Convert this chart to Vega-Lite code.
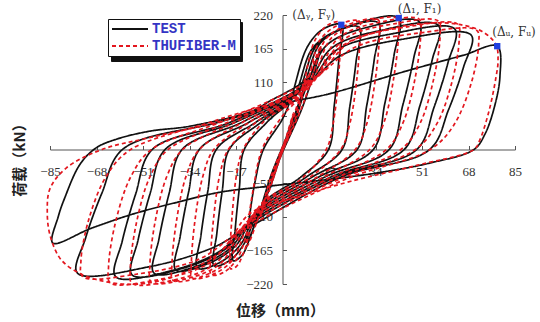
{
"$schema":"https://vega.github.io/schema/vega-lite/v6.json",
"width":465,"height":269,
"autosize":{"type":"none"},
"padding":{"left":50,"top":15,"right":25,"bottom":38},
"background":"white",
"config":{"view":{"stroke":null}},
"datasets":{"curves":[
{"s":"TEST","x":0,"y":0},{"s":"TEST","x":2,"y":28},{"s":"TEST","x":4,"y":55},{"s":"TEST","x":2.2,"y":25},{"s":"TEST","x":-0.8,"y":-5},{"s":"TEST","x":-2,"y":-27},{"s":"TEST","x":-4,"y":-50},{"s":"TEST","x":-2.2,"y":-22},{"s":"TEST","x":0.6,"y":10},{"s":"TEST","x":4.5,"y":57},{"s":"TEST","x":9,"y":115},{"s":"TEST","x":5,"y":52},{"s":"TEST","x":-0.6,"y":-10},{"s":"TEST","x":-4,"y":-55},{"s":"TEST","x":-8,"y":-100},{"s":"TEST","x":-4.4,"y":-45},{"s":"TEST","x":1,"y":15},{"s":"TEST","x":7,"y":82},{"s":"TEST","x":14,"y":165},{"s":"TEST","x":7.7,"y":74},{"s":"TEST","x":-1,"y":-15},{"s":"TEST","x":-6.5,"y":-82},{"s":"TEST","x":-13,"y":-150},{"s":"TEST","x":-12,"y":-108},{"s":"TEST","x":-10,"y":-52},{"s":"TEST","x":-7,"y":0},{"s":"TEST","x":0,"y":50},{"s":"TEST","x":3,"y":82},{"s":"TEST","x":9.1,"y":168},{"s":"TEST","x":14.9,"y":197},
{"s":"TEST","x":21.5,"y":204},{"s":"TEST","x":20.6,"y":147},{"s":"TEST","x":18.9,"y":71},{"s":"TEST","x":16.8,"y":0},{"s":"TEST","x":6.7,"y":-45},{"s":"TEST","x":-7,"y":-88},{"s":"TEST","x":-12,"y":-146},{"s":"TEST","x":-14.8,"y":-173},
{"s":"TEST","x":-18,"y":-182},{"s":"TEST","x":-17.3,"y":-131},{"s":"TEST","x":-15.8,"y":-64},{"s":"TEST","x":-14,"y":0},{"s":"TEST","x":-5.6,"y":45},{"s":"TEST","x":4,"y":86},{"s":"TEST","x":10.75,"y":164},{"s":"TEST","x":18.8,"y":192},
{"s":"TEST","x":28,"y":200},{"s":"TEST","x":26.9,"y":144},{"s":"TEST","x":24.6,"y":70},{"s":"TEST","x":21.8,"y":0},{"s":"TEST","x":8.7,"y":-45},{"s":"TEST","x":-8,"y":-95},{"s":"TEST","x":-13.75,"y":-152},{"s":"TEST","x":-19,"y":-180.5},
{"s":"TEST","x":-25,"y":-190},{"s":"TEST","x":-24,"y":-137},{"s":"TEST","x":-22,"y":-66.5},{"s":"TEST","x":-19.5,"y":0},{"s":"TEST","x":-7.75,"y":45},{"s":"TEST","x":5,"y":90},{"s":"TEST","x":12.5,"y":170},{"s":"TEST","x":23,"y":199},
{"s":"TEST","x":35,"y":207},{"s":"TEST","x":33.6,"y":149},{"s":"TEST","x":30.8,"y":72},{"s":"TEST","x":27.3,"y":0},{"s":"TEST","x":10.9,"y":-45},{"s":"TEST","x":-9,"y":-102},{"s":"TEST","x":-15.25,"y":-155},{"s":"TEST","x":-22.6,"y":-184},
{"s":"TEST","x":-31,"y":-194},{"s":"TEST","x":-29.8,"y":-140},{"s":"TEST","x":-27.3,"y":-68},{"s":"TEST","x":-24.2,"y":0},{"s":"TEST","x":-9.6,"y":45},{"s":"TEST","x":6,"y":94},{"s":"TEST","x":14.25,"y":176},{"s":"TEST","x":27.2,"y":206},
{"s":"TEST","x":42.5,"y":215},{"s":"TEST","x":40.8,"y":155},{"s":"TEST","x":37.4,"y":75},{"s":"TEST","x":33.2,"y":0},{"s":"TEST","x":13.2,"y":-45},{"s":"TEST","x":-10,"y":-108},{"s":"TEST","x":-17.25,"y":-158},{"s":"TEST","x":-27.4,"y":-187},
{"s":"TEST","x":-39,"y":-197},{"s":"TEST","x":-37.4,"y":-142},{"s":"TEST","x":-34.3,"y":-69},{"s":"TEST","x":-30.4,"y":0},{"s":"TEST","x":-12.1,"y":45},{"s":"TEST","x":7,"y":98},{"s":"TEST","x":16.25,"y":171},{"s":"TEST","x":32,"y":201},
{"s":"TEST","x":50,"y":209},{"s":"TEST","x":48,"y":150},{"s":"TEST","x":44,"y":73},{"s":"TEST","x":39,"y":0},{"s":"TEST","x":15.5,"y":-45},{"s":"TEST","x":-11,"y":-114},{"s":"TEST","x":-19.25,"y":-162},{"s":"TEST","x":-32.2,"y":-192},
{"s":"TEST","x":-47,"y":-202},{"s":"TEST","x":-45.1,"y":-145},{"s":"TEST","x":-41.4,"y":-71},{"s":"TEST","x":-36.7,"y":0},{"s":"TEST","x":-14.6,"y":45},{"s":"TEST","x":8,"y":102},{"s":"TEST","x":18,"y":166},{"s":"TEST","x":36.2,"y":195},
{"s":"TEST","x":57,"y":203},{"s":"TEST","x":54.7,"y":146},{"s":"TEST","x":50.2,"y":71},{"s":"TEST","x":44.5,"y":0},{"s":"TEST","x":17.7,"y":-45},{"s":"TEST","x":-12,"y":-120},{"s":"TEST","x":-21.25,"y":-164},{"s":"TEST","x":-37,"y":-195},
{"s":"TEST","x":-55,"y":-205},{"s":"TEST","x":-52.8,"y":-148},{"s":"TEST","x":-48.4,"y":-72},{"s":"TEST","x":-42.9,"y":0},{"s":"TEST","x":-17,"y":45},{"s":"TEST","x":9,"y":106},{"s":"TEST","x":19.5,"y":162},{"s":"TEST","x":39.8,"y":189},
{"s":"TEST","x":63,"y":197},{"s":"TEST","x":60.5,"y":142},{"s":"TEST","x":55.4,"y":69},{"s":"TEST","x":49.1,"y":0},{"s":"TEST","x":19.5,"y":-45},{"s":"TEST","x":-13,"y":-126},{"s":"TEST","x":-22.75,"y":-166},{"s":"TEST","x":-40.6,"y":-198},
{"s":"TEST","x":-61,"y":-208},{"s":"TEST","x":-58.6,"y":-150},{"s":"TEST","x":-53.7,"y":-73},{"s":"TEST","x":-47.6,"y":0},{"s":"TEST","x":-18.9,"y":45},{"s":"TEST","x":10,"y":110},{"s":"TEST","x":21,"y":153},{"s":"TEST","x":43.4,"y":180},
{"s":"TEST","x":69,"y":187},{"s":"TEST","x":66.2,"y":135},{"s":"TEST","x":60.7,"y":65},{"s":"TEST","x":53.8,"y":0},{"s":"TEST","x":21.4,"y":-45},{"s":"TEST","x":-14,"y":-132},{"s":"TEST","x":-26.25,"y":-162},{"s":"TEST","x":-49,"y":-192},
{"s":"TEST","x":-75,"y":-202},{"s":"TEST","x":-72,"y":-145},{"s":"TEST","x":-66,"y":-71},{"s":"TEST","x":-58.5,"y":0},{"s":"TEST","x":-23,"y":45},{"s":"TEST","x":0,"y":75},{"s":"TEST","x":17,"y":91},{"s":"TEST","x":45,"y":128},{"s":"TEST","x":66,"y":154},
{"s":"TEST","x":78.5,"y":169},{"s":"TEST","x":79.5,"y":120},{"s":"TEST","x":77.5,"y":70},{"s":"TEST","x":74,"y":25},{"s":"TEST","x":70,"y":0},{"s":"TEST","x":54,"y":-22},{"s":"TEST","x":35,"y":-38},{"s":"TEST","x":15,"y":-50},{"s":"TEST","x":-5,"y":-60},{"s":"TEST","x":-23,"y":-70},{"s":"TEST","x":-40,"y":-88},{"s":"TEST","x":-55,"y":-106},{"s":"TEST","x":-70,"y":-129},
{"s":"TEST","x":-84,"y":-153},{"s":"TEST","x":-82,"y":-110},{"s":"TEST","x":-79.6,"y":-79},{"s":"TEST","x":-74,"y":-24},{"s":"TEST","x":-68,"y":3},{"s":"TEST","x":-60.6,"y":17},{"s":"TEST","x":-48.5,"y":30},{"s":"TEST","x":-34,"y":38},{"s":"TEST","x":-11,"y":63},{"s":"TEST","x":-4.7,"y":79},{"s":"TEST","x":4,"y":100},{"s":"TEST","x":10,"y":118},
{"s":"THUFIBER-M","x":0,"y":0},{"s":"THUFIBER-M","x":2,"y":30},{"s":"THUFIBER-M","x":4,"y":60},{"s":"THUFIBER-M","x":2.3,"y":28},{"s":"THUFIBER-M","x":-0.6,"y":-4},{"s":"THUFIBER-M","x":-2.2,"y":-30},{"s":"THUFIBER-M","x":-4,"y":-55},{"s":"THUFIBER-M","x":-2.4,"y":-25},{"s":"THUFIBER-M","x":0.5,"y":8},{"s":"THUFIBER-M","x":4.6,"y":62},{"s":"THUFIBER-M","x":9,"y":120},{"s":"THUFIBER-M","x":5.3,"y":58},{"s":"THUFIBER-M","x":-0.4,"y":-8},{"s":"THUFIBER-M","x":-4.3,"y":-60},{"s":"THUFIBER-M","x":-8,"y":-108},{"s":"THUFIBER-M","x":-4.6,"y":-50},{"s":"THUFIBER-M","x":1.2,"y":18},{"s":"THUFIBER-M","x":7,"y":88},{"s":"THUFIBER-M","x":14,"y":170},{"s":"THUFIBER-M","x":8,"y":80},{"s":"THUFIBER-M","x":-0.8,"y":-12},{"s":"THUFIBER-M","x":-6.8,"y":-86},{"s":"THUFIBER-M","x":-13,"y":-158},{"s":"THUFIBER-M","x":-12.5,"y":-120},{"s":"THUFIBER-M","x":-10.5,"y":-60},{"s":"THUFIBER-M","x":-7.5,"y":0},{"s":"THUFIBER-M","x":0,"y":55},{"s":"THUFIBER-M","x":6,"y":86},{"s":"THUFIBER-M","x":11.9,"y":179},{"s":"THUFIBER-M","x":16.8,"y":204},
{"s":"THUFIBER-M","x":21,"y":208},{"s":"THUFIBER-M","x":21.2,"y":183},{"s":"THUFIBER-M","x":20.4,"y":114},{"s":"THUFIBER-M","x":18.5,"y":42},{"s":"THUFIBER-M","x":16,"y":0},{"s":"THUFIBER-M","x":6.9,"y":-48},{"s":"THUFIBER-M","x":-8,"y":-90},{"s":"THUFIBER-M","x":-14.1,"y":-168},{"s":"THUFIBER-M","x":-16.8,"y":-191},
{"s":"THUFIBER-M","x":-19,"y":-195},{"s":"THUFIBER-M","x":-19.2,"y":-172},{"s":"THUFIBER-M","x":-18.4,"y":-107},{"s":"THUFIBER-M","x":-16.7,"y":-39},{"s":"THUFIBER-M","x":-14.4,"y":0},{"s":"THUFIBER-M","x":-6.3,"y":48},{"s":"THUFIBER-M","x":7,"y":90},{"s":"THUFIBER-M","x":14,"y":181},{"s":"THUFIBER-M","x":21.6,"y":206},
{"s":"THUFIBER-M","x":28,"y":210},{"s":"THUFIBER-M","x":28.3,"y":185},{"s":"THUFIBER-M","x":27.2,"y":116},{"s":"THUFIBER-M","x":24.6,"y":42},{"s":"THUFIBER-M","x":21.3,"y":0},{"s":"THUFIBER-M","x":9.2,"y":-48},{"s":"THUFIBER-M","x":-9,"y":-96},{"s":"THUFIBER-M","x":-16.2,"y":-176},{"s":"THUFIBER-M","x":-21.5,"y":-201},
{"s":"THUFIBER-M","x":-26,"y":-205},{"s":"THUFIBER-M","x":-26.3,"y":-180},{"s":"THUFIBER-M","x":-25.2,"y":-113},{"s":"THUFIBER-M","x":-22.9,"y":-41},{"s":"THUFIBER-M","x":-19.8,"y":0},{"s":"THUFIBER-M","x":-8.6,"y":48},{"s":"THUFIBER-M","x":8,"y":95},{"s":"THUFIBER-M","x":16.1,"y":182},{"s":"THUFIBER-M","x":26.4,"y":208},
{"s":"THUFIBER-M","x":35,"y":212},{"s":"THUFIBER-M","x":35.4,"y":187},{"s":"THUFIBER-M","x":34,"y":117},{"s":"THUFIBER-M","x":30.8,"y":42},{"s":"THUFIBER-M","x":26.6,"y":0},{"s":"THUFIBER-M","x":11.6,"y":-48},{"s":"THUFIBER-M","x":-10,"y":-102},{"s":"THUFIBER-M","x":-18.3,"y":-181},{"s":"THUFIBER-M","x":-26.3,"y":-206},
{"s":"THUFIBER-M","x":-33,"y":-210},{"s":"THUFIBER-M","x":-33.3,"y":-185},{"s":"THUFIBER-M","x":-32,"y":-116},{"s":"THUFIBER-M","x":-29,"y":-42},{"s":"THUFIBER-M","x":-25.1,"y":0},{"s":"THUFIBER-M","x":-10.9,"y":48},{"s":"THUFIBER-M","x":9,"y":100},{"s":"THUFIBER-M","x":18.2,"y":184},{"s":"THUFIBER-M","x":31.1,"y":210},
{"s":"THUFIBER-M","x":42,"y":214},{"s":"THUFIBER-M","x":42.4,"y":188},{"s":"THUFIBER-M","x":40.7,"y":118},{"s":"THUFIBER-M","x":37,"y":43},{"s":"THUFIBER-M","x":31.9,"y":0},{"s":"THUFIBER-M","x":13.9,"y":-48},{"s":"THUFIBER-M","x":-11,"y":-108},{"s":"THUFIBER-M","x":-20.4,"y":-184},{"s":"THUFIBER-M","x":-31,"y":-210},
{"s":"THUFIBER-M","x":-40,"y":-214},{"s":"THUFIBER-M","x":-40.4,"y":-188},{"s":"THUFIBER-M","x":-38.8,"y":-118},{"s":"THUFIBER-M","x":-35.2,"y":-43},{"s":"THUFIBER-M","x":-30.4,"y":0},{"s":"THUFIBER-M","x":-13.2,"y":48},{"s":"THUFIBER-M","x":10,"y":104},{"s":"THUFIBER-M","x":20.6,"y":183},{"s":"THUFIBER-M","x":36.6,"y":209},
{"s":"THUFIBER-M","x":50,"y":213},{"s":"THUFIBER-M","x":50.5,"y":187},{"s":"THUFIBER-M","x":48.5,"y":117},{"s":"THUFIBER-M","x":44,"y":43},{"s":"THUFIBER-M","x":38,"y":0},{"s":"THUFIBER-M","x":16.5,"y":-48},{"s":"THUFIBER-M","x":-12,"y":-114},{"s":"THUFIBER-M","x":-22.8,"y":-187},{"s":"THUFIBER-M","x":-36.5,"y":-213},
{"s":"THUFIBER-M","x":-48,"y":-217},{"s":"THUFIBER-M","x":-48.5,"y":-191},{"s":"THUFIBER-M","x":-46.6,"y":-119},{"s":"THUFIBER-M","x":-42.2,"y":-43},{"s":"THUFIBER-M","x":-36.5,"y":0},{"s":"THUFIBER-M","x":-15.8,"y":48},{"s":"THUFIBER-M","x":10,"y":108},{"s":"THUFIBER-M","x":22.7,"y":181},{"s":"THUFIBER-M","x":41.3,"y":206},
{"s":"THUFIBER-M","x":57,"y":210},{"s":"THUFIBER-M","x":57.6,"y":185},{"s":"THUFIBER-M","x":55.3,"y":116},{"s":"THUFIBER-M","x":50.2,"y":42},{"s":"THUFIBER-M","x":43.3,"y":0},{"s":"THUFIBER-M","x":18.8,"y":-48},{"s":"THUFIBER-M","x":-13,"y":-120},{"s":"THUFIBER-M","x":-24.9,"y":-188},{"s":"THUFIBER-M","x":-41.2,"y":-215},
{"s":"THUFIBER-M","x":-55,"y":-219},{"s":"THUFIBER-M","x":-55.6,"y":-193},{"s":"THUFIBER-M","x":-53.4,"y":-120},{"s":"THUFIBER-M","x":-48.4,"y":-44},{"s":"THUFIBER-M","x":-41.8,"y":0},{"s":"THUFIBER-M","x":-18.2,"y":48},{"s":"THUFIBER-M","x":11,"y":112},{"s":"THUFIBER-M","x":24.8,"y":176},{"s":"THUFIBER-M","x":46.1,"y":201},
{"s":"THUFIBER-M","x":64,"y":205},{"s":"THUFIBER-M","x":64.6,"y":180},{"s":"THUFIBER-M","x":62.1,"y":113},{"s":"THUFIBER-M","x":56.3,"y":41},{"s":"THUFIBER-M","x":48.6,"y":0},{"s":"THUFIBER-M","x":21.1,"y":-48},{"s":"THUFIBER-M","x":-14,"y":-126},{"s":"THUFIBER-M","x":-27.3,"y":-187},{"s":"THUFIBER-M","x":-46.7,"y":-214},
{"s":"THUFIBER-M","x":-63,"y":-218},{"s":"THUFIBER-M","x":-63.6,"y":-192},{"s":"THUFIBER-M","x":-61.1,"y":-120},{"s":"THUFIBER-M","x":-55.4,"y":-44},{"s":"THUFIBER-M","x":-47.9,"y":0},{"s":"THUFIBER-M","x":-20.8,"y":48},{"s":"THUFIBER-M","x":11,"y":115},{"s":"THUFIBER-M","x":26.9,"y":168},{"s":"THUFIBER-M","x":50.8,"y":191},
{"s":"THUFIBER-M","x":71,"y":195},{"s":"THUFIBER-M","x":71.7,"y":172},{"s":"THUFIBER-M","x":68.9,"y":107},{"s":"THUFIBER-M","x":62.5,"y":39},{"s":"THUFIBER-M","x":54,"y":0},{"s":"THUFIBER-M","x":23.4,"y":-48},{"s":"THUFIBER-M","x":-15,"y":-132},{"s":"THUFIBER-M","x":-30.3,"y":-179},{"s":"THUFIBER-M","x":-53.5,"y":-204},
{"s":"THUFIBER-M","x":-73,"y":-208},{"s":"THUFIBER-M","x":-73.7,"y":-183},{"s":"THUFIBER-M","x":-70.8,"y":-114},{"s":"THUFIBER-M","x":-64.2,"y":-42},{"s":"THUFIBER-M","x":-55.5,"y":0},{"s":"THUFIBER-M","x":-24,"y":48},{"s":"THUFIBER-M","x":8,"y":100},{"s":"THUFIBER-M","x":22,"y":170},{"s":"THUFIBER-M","x":40,"y":198},{"s":"THUFIBER-M","x":55,"y":207},{"s":"THUFIBER-M","x":64,"y":205},{"s":"THUFIBER-M","x":73,"y":193},{"s":"THUFIBER-M","x":78,"y":172},{"s":"THUFIBER-M","x":78.8,"y":145},{"s":"THUFIBER-M","x":78,"y":117},{"s":"THUFIBER-M","x":75.5,"y":63},{"s":"THUFIBER-M","x":72,"y":14},{"s":"THUFIBER-M","x":70,"y":0},{"s":"THUFIBER-M","x":50,"y":-25},{"s":"THUFIBER-M","x":25,"y":-52},{"s":"THUFIBER-M","x":5,"y":-78},{"s":"THUFIBER-M","x":-12,"y":-105},{"s":"THUFIBER-M","x":-22,"y":-165},{"s":"THUFIBER-M","x":-38,"y":-205},{"s":"THUFIBER-M","x":-50,"y":-219},{"s":"THUFIBER-M","x":-58,"y":-220},{"s":"THUFIBER-M","x":-66,"y":-215},{"s":"THUFIBER-M","x":-74,"y":-203},{"s":"THUFIBER-M","x":-81,"y":-180},{"s":"THUFIBER-M","x":-85,"y":-140},{"s":"THUFIBER-M","x":-86,"y":-100},{"s":"THUFIBER-M","x":-85,"y":-64},{"s":"THUFIBER-M","x":-79,"y":-30},{"s":"THUFIBER-M","x":-66,"y":0},{"s":"THUFIBER-M","x":-50,"y":18},{"s":"THUFIBER-M","x":-30,"y":38},{"s":"THUFIBER-M","x":-10,"y":62},{"s":"THUFIBER-M","x":4,"y":90},{"s":"THUFIBER-M","x":10,"y":110}
]},
"layer":[
{"data":{"name":"curves"},
 "mark":{"type":"line","interpolate":"catmull-rom","strokeWidth":1.7},
 "encoding":{
  "x":{"field":"x","type":"quantitative","scale":{"domain":[-85,85],"nice":false,"zero":false},
   "axis":{"orient":"bottom","offset":-134.5,"values":[-85,-68,-51,-34,-17,17,34,51,68,85],"tickCount":30,"tickSize":-4,"labelPadding":20,"grid":false,"labelFlush":false,"labelOverlap":false,
    "title":"位移（mm）","titleX":230,"titleY":161,"titleAlign":"center","titleBaseline":"middle","titleFont":"Noto Sans CJK SC","titleFontSize":15,"titleFontWeight":"bold","titleColor":"#222222",
    "labelFont":"Liberation Serif","labelFontSize":13,"labelColor":"#333333","domainColor":"#555555","tickColor":"#555555"}},
  "y":{"field":"y","type":"quantitative","scale":{"domain":[-220,220],"nice":false,"zero":false},
   "axis":{"orient":"left","offset":-232.5,"values":[220,165,110,55,-55,-110,-165,-220],"tickCount":30,"tickSize":-4,"labelPadding":14,"grid":false,"labelFlush":false,"labelOverlap":false,
    "title":"荷载（kN）","titleX":-263.5,"titleY":141,"titleAngle":-90,"titleAlign":"center","titleBaseline":"middle","titleFont":"Noto Sans CJK SC","titleFontSize":15,"titleFontWeight":"bold","titleColor":"#222222",
    "labelFont":"Liberation Serif","labelFontSize":13,"labelColor":"#333333","domainColor":"#555555","tickColor":"#555555"}},
  "color":{"field":"s","type":"nominal","scale":{"range":["#111111","#e3161e"]},
   "legend":{"orient":"none","legendX":58,"legendY":4,"title":null,"fillColor":"white","strokeColor":"#111111","padding":3,"symbolType":"M-1,0H5","symbolSize":144,"symbolStrokeWidth":2,"labelFont":"Liberation Mono","labelFontWeight":"bold","labelFontSize":14,"labelColor":"#3434c4","labelOffset":27,"rowPadding":3,"zindex":2}},
  "strokeDash":{"field":"s","type":"nominal","scale":{"range":[[1,0],[4,3]]}},
  "opacity":{"field":"s","type":"nominal","scale":{"domain":["TEST","THUFIBER-M"],"range":[1,1]},
   "legend":{"orient":"none","legendX":61,"legendY":7,"title":null,"fillColor":"#111111","strokeColor":"#111111","padding":3,"symbolType":"M-1,0H5","symbolSize":196,"symbolStrokeWidth":2,"symbolStrokeColor":"#111111","symbolFillColor":"#111111","labelExpr":"''","labelFontSize":14,"labelOffset":109,"rowPadding":3,"zindex":1}},
  "order":{"value":null}
 }},
{"data":{"values":[{"x":21.5,"y":204},{"x":42.5,"y":215},{"x":78.5,"y":169}]},
 "mark":{"type":"square","size":40,"color":"#1f3fe0","filled":true,"opacity":1},
 "encoding":{"x":{"field":"x","type":"quantitative"},"y":{"field":"y","type":"quantitative"}}},
{"data":{"values":[{"x":21.5,"y":204,"t":"(Δᵧ, Fᵧ)"}]},
 "mark":{"type":"text","align":"right","baseline":"middle","dx":-6,"dy":-10,"font":"DejaVu Serif","fontSize":12,"color":"#333333"},
 "encoding":{"x":{"field":"x","type":"quantitative"},"y":{"field":"y","type":"quantitative"},"text":{"field":"t"}}},
{"data":{"values":[{"x":42.5,"y":215,"t":"(Δ₁, F₁)"}]},
 "mark":{"type":"text","align":"left","baseline":"middle","dx":-1,"dy":-9,"font":"DejaVu Serif","fontSize":12,"color":"#333333"},
 "encoding":{"x":{"field":"x","type":"quantitative"},"y":{"field":"y","type":"quantitative"},"text":{"field":"t"}}},
{"data":{"values":[{"x":78.5,"y":169,"t":"(Δᵤ, Fᵤ)"}]},
 "mark":{"type":"text","align":"left","baseline":"middle","dx":-5,"dy":-14,"font":"DejaVu Serif","fontSize":12,"color":"#333333"},
 "encoding":{"x":{"field":"x","type":"quantitative"},"y":{"field":"y","type":"quantitative"},"text":{"field":"t"}}}
]
}
